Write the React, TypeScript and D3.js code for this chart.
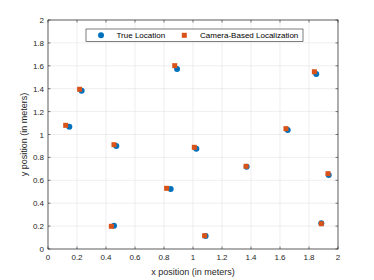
import React from 'react';
import * as d3 from 'd3';

const trueX = [0.147, 0.232, 0.471, 1.023, 1.37, 1.653, 1.936, 0.846, 0.455, 1.087, 1.885, 0.89, 1.85];
const trueY = [1.068, 1.383, 0.9, 0.876, 0.719, 1.039, 0.646, 0.524, 0.204, 0.114, 0.224, 1.572, 1.528];
const camX = [0.122, 0.218, 0.455, 1.009, 1.366, 1.641, 1.931, 0.818, 0.437, 1.08, 1.885, 0.874, 1.837];
const camY = [1.08, 1.395, 0.911, 0.888, 0.722, 1.051, 0.658, 0.53, 0.198, 0.116, 0.221, 1.601, 1.548];
const xTicks = [0, 0.2, 0.4, 0.6, 0.8, 1, 1.2, 1.4, 1.6, 1.8, 2];
const yTicks = [0, 0.2, 0.4, 0.6, 0.8, 1, 1.2, 1.4, 1.6, 1.8, 2];

const W = 374;
const H = 280;
const M = { left: 48, right: 36, top: 20, bottom: 31 };
const FONT = '"Liberation Sans", Arial, sans-serif';
const BLUE = '#0072BD';
const ORANGE = '#D95319';

const App: React.FC = () => {
  const x = d3.scaleLinear().domain([0, 2]).range([M.left, W - M.right]);
  const y = d3.scaleLinear().domain([0, 2]).range([H - M.bottom, M.top]);
  const fmt = (v: number) => String(Math.round(v * 10) / 10);
  const [x0, x1] = x.range();
  const [y0, y1] = y.range();
  const tk = 2.5;

  return (
    <svg width={W} height={H} style={{ position: 'absolute', left: 0, top: 0, background: '#fff' }}
      fontFamily={FONT}>
      <rect x={0} y={0} width={W} height={H} fill="#fff" />
      {/* grid */}
      {xTicks.map(t => (
        <line key={'gx' + t} x1={x(t)} x2={x(t)} y1={y1} y2={y0} stroke="#e3e3e3" strokeWidth={0.6} />
      ))}
      {yTicks.map(t => (
        <line key={'gy' + t} x1={x0} x2={x1} y1={y(t)} y2={y(t)} stroke="#e3e3e3" strokeWidth={0.6} />
      ))}
      {/* ticks */}
      {xTicks.map(t => (
        <g key={'tx' + t}>
          <line x1={x(t)} x2={x(t)} y1={y0} y2={y0 - tk} stroke="#262626" strokeWidth={0.6} />
          <line x1={x(t)} x2={x(t)} y1={y1} y2={y1 + tk} stroke="#262626" strokeWidth={0.6} />
          <text x={x(t)} y={y0 + 11} textAnchor="middle" fontSize={8} fill="#262626">{fmt(t)}</text>
        </g>
      ))}
      {yTicks.map(t => (
        <g key={'ty' + t}>
          <line x1={x0} x2={x0 + tk} y1={y(t)} y2={y(t)} stroke="#262626" strokeWidth={0.6} />
          <line x1={x1} x2={x1 - tk} y1={y(t)} y2={y(t)} stroke="#262626" strokeWidth={0.6} />
          <text x={x0 - 4} y={y(t) + 3} textAnchor="end" fontSize={8} fill="#262626">{fmt(t)}</text>
        </g>
      ))}
      <rect x={x0} y={y1} width={x1 - x0} height={y0 - y1} fill="none" stroke="#262626" strokeWidth={0.7} />
      {/* data */}
      {trueX.map((v, i) => (
        <circle key={'c' + i} cx={x(v)} cy={y(trueY[i])} r={3} fill={BLUE} />
      ))}
      {camX.map((v, i) => (
        <rect key={'s' + i} x={x(v) - 2.5} y={y(camY[i]) - 2.5} width={5} height={5} fill={ORANGE} />
      ))}
      {/* legend */}
      <rect x={86} y={29} width={217} height={12.5} fill="#fff" stroke="#262626" strokeWidth={0.6} />
      <circle cx={101} cy={35.3} r={3} fill={BLUE} />
      <text x={116.5} y={38.3} fontSize={8} fill="#000">True Location</text>
      <rect x={181.8} y={32.8} width={5} height={5} fill={ORANGE} />
      <text x={200} y={38.3} fontSize={8} fill="#000">Camera-Based Localization</text>
      {/* axis labels */}
      <text x={(x0 + x1) / 2} y={H - 5} textAnchor="middle" fontSize={9} fill="#262626">x position (in meters)</text>
      <text transform={`translate(27,${(y0 + y1) / 2}) rotate(-90)`} textAnchor="middle" fontSize={9} fill="#262626">
        y position (in meters)
      </text>
    </svg>
  );
};

export default App;
